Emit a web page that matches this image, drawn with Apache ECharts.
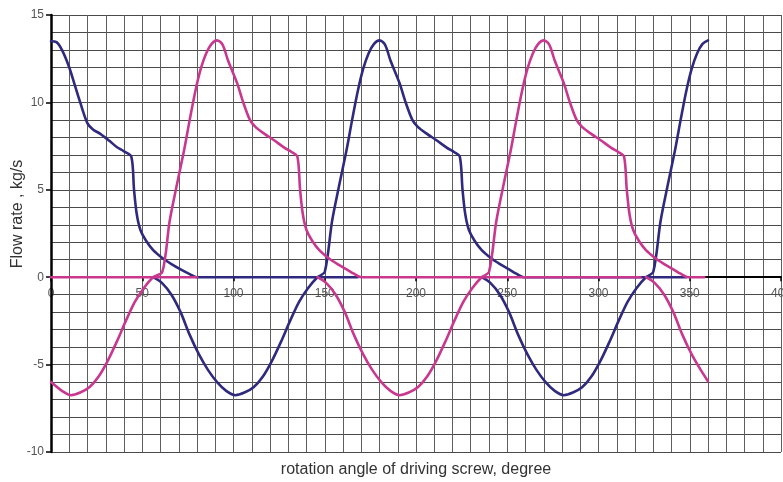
<!DOCTYPE html>
<html>
<head>
<meta charset="utf-8">
<script src="https://cdn.jsdelivr.net/npm/echarts@6/dist/echarts.min.js"></script>
<style>
  html, body { margin: 0; padding: 0; background: #ffffff; }
  #chart { width: 783px; height: 482px; }
</style>
</head>
<body>
<div id="chart"></div>
<script>
// Flow rate of the two working chambers over one turn of the driving screw.
// Each array is one continuous stretch of a curve: [angle in degrees, flow in kg/s].

// chamber 1 (blue)
const blueStart = [
  [0, 13.5], [3, 13.45], [6, 13.0], [10, 12.0], [13, 11.0], [16, 10.0], [20, 8.8], [23, 8.45],
  [27, 8.2], [32, 7.8], [36, 7.45], [40, 7.2], [44, 6.9], [45.5, 5.0], [47, 3.6], [49, 2.7],
  [52, 2.1], [56, 1.55], [61, 1.1], [66, 0.75], [71, 0.45], [76, 0.18], [80, 0], [168, 0]
];
const blueCycle1 = [
  [56, 0], [61, -0.35], [66, -1.0], [71, -2.0], [76, -3.3], [81, -4.4], [86, -5.3], [91, -6.0],
  [96, -6.5], [101, -6.75], [106, -6.6], [111, -6.3], [116, -5.7], [121, -4.8], [126, -3.7],
  [131, -2.5], [136, -1.4], [141, -0.6], [146, 0],
  [150, 0.3], [154, 3.2], [158, 5.3], [162, 7.3], [165, 9.0], [168, 10.6], [171, 11.9],
  [174, 12.8], [177, 13.35], [180, 13.55],
  [183, 13.3], [186, 12.4], [191, 11.1], [194, 10.1], [198, 9.0], [201, 8.6], [206, 8.2],
  [211, 7.85], [217, 7.4], [221, 7.15], [224, 6.9], [225.5, 5.0], [227, 3.6], [229, 2.7],
  [232, 2.1], [236, 1.55], [241, 1.1], [246, 0.75], [251, 0.45], [255, 0.2], [259, 0], [348, 0]
];
const blueCycle2 = [
  [236, 0], [241, -0.35], [246, -1.0], [251, -2.0], [256, -3.3], [261, -4.4], [266, -5.3],
  [271, -6.0], [276, -6.5], [281, -6.75], [286, -6.6], [291, -6.3], [296, -5.7], [301, -4.8],
  [306, -3.7], [311, -2.5], [316, -1.4], [321, -0.6], [326, 0],
  [330, 0.3], [334, 3.2], [338, 5.3], [342, 7.3], [345, 9.0], [348, 10.6], [351, 11.9],
  [354, 12.8], [357, 13.35], [360, 13.55]
];

// chamber 2 (magenta)
const magentaIdle = [[0, 0], [80, 0]];
const magentaCycle1 = [
  [0, -6.0], [6, -6.5], [11, -6.75], [16, -6.6], [21, -6.3], [26, -5.7], [31, -4.8],
  [36, -3.7], [41, -2.5], [46, -1.4], [51, -0.6], [56, 0],
  [61, 0.3], [65, 3.2], [69, 5.3], [73, 7.3], [76, 9.0], [79, 10.6], [82, 11.9], [85, 12.8],
  [88, 13.35], [91, 13.55],
  [94, 13.3], [97, 12.4], [102, 11.1], [105, 10.1], [109, 9.0], [112, 8.6], [117, 8.2],
  [122, 7.85], [128, 7.4], [132, 7.15], [135, 6.9], [136.5, 5.0], [138, 3.6], [140, 2.7],
  [143, 2.1], [147, 1.55], [152, 1.1], [157, 0.75], [162, 0.45], [166, 0.2], [170, 0], [323, 0]
];
const magentaCycle2 = [
  [146, 0], [151, -0.35], [156, -1.0], [161, -2.0], [166, -3.3], [171, -4.4], [176, -5.3],
  [181, -6.0], [186, -6.5], [191, -6.75], [196, -6.6], [201, -6.3], [206, -5.7], [211, -4.8],
  [216, -3.7], [221, -2.5], [226, -1.4], [231, -0.6], [236, 0],
  [240, 0.3], [244, 3.2], [248, 5.3], [252, 7.3], [255, 9.0], [258, 10.6], [261, 11.9],
  [264, 12.8], [267, 13.35], [270, 13.55],
  [273, 13.3], [276, 12.4], [281, 11.1], [284, 10.1], [288, 9.0], [291, 8.6], [296, 8.2],
  [301, 7.85], [307, 7.4], [311, 7.15], [314, 6.9], [315.5, 5.0], [317, 3.6], [319, 2.7],
  [322, 2.1], [326, 1.55], [331, 1.1], [336, 0.75], [341, 0.45], [345, 0.2], [349, 0], [358, 0]
];
const magentaEnd = [
  [326, 0], [331, -0.35], [336, -1.0], [341, -2.0], [346, -3.3], [351, -4.4], [356, -5.3], [360, -5.95]
];

const xRange = [0, 400];
const yRange = [-10, 15];
const xTitle = 'rotation angle of driving screw, degree';
const yTitle = 'Flow rate , kg/s';

const BLUE = '#2f2a7e';
const MAGENTA = '#c9388f';
const FONT = 'Liberation Sans, Arial, sans-serif';

// plot box
const PLOT = { left: 51, right: 2, top: 15, bottom: 30 };
const plotHeight = 482 - PLOT.top - PLOT.bottom;
// height from the top of the plot down to the zero line
const zeroOffset = plotHeight * yRange[1] / (yRange[1] - yRange[0]);

const chart = echarts.init(document.getElementById('chart'), null, { renderer: 'canvas' });

function curve(data, color, z) {
  return {
    type: 'line', data: data, xAxisIndex: 0, yAxisIndex: 0,
    showSymbol: false, symbol: 'none', smooth: 0.3,
    lineStyle: { color: color, width: 2.6, cap: 'round', join: 'round' },
    z: z, silent: true, animation: false
  };
}

const baseX = { type: 'value', min: xRange[0], max: xRange[1] };
const baseY = { type: 'value', min: yRange[0], max: yRange[1] };

chart.setOption({
  animation: false,
  backgroundColor: '#ffffff',
  grid: [
    Object.assign({ containLabel: false, outerBoundsMode: 'none' }, PLOT),
    // upper half of the plot: its bottom edge is the zero line, where the angle labels sit
    { left: PLOT.left, right: PLOT.right, top: PLOT.top, height: zeroOffset, containLabel: false, outerBoundsMode: 'none' }
  ],
  xAxis: [
    // black axis line through zero, with ticks
    Object.assign({}, baseX, {
      gridIndex: 0, interval: 50, position: 'bottom', z: 1.5,
      axisLine: { show: true, onZero: true, onZeroAxisIndex: 0, lineStyle: { color: '#000', width: 2 } },
      axisTick: { show: true, length: 4, lineStyle: { color: '#000', width: 1.5 } },
      axisLabel: { show: false },
      splitLine: { show: false }
    }),
    // 10-degree grid
    Object.assign({}, baseX, {
      gridIndex: 0, interval: 10, position: 'bottom', z: 1,
      axisLine: { show: false, onZero: false }, axisTick: { show: false }, axisLabel: { show: false },
      splitLine: { show: true, lineStyle: { color: '#5e5e5e', width: 1 } }
    }),
    // angle labels under the zero line
    Object.assign({}, baseX, {
      gridIndex: 1, interval: 50, position: 'bottom', z: 0,
      axisLine: { show: false, onZero: false }, axisTick: { show: false },
      axisLabel: { color: '#555', fontSize: 12, fontFamily: FONT, margin: 10, showMinLabel: true, showMaxLabel: true },
      splitLine: { show: false }
    })
  ],
  yAxis: [
    Object.assign({}, baseY, {
      gridIndex: 0, interval: 5, position: 'left', z: 0,
      axisLine: { show: false, onZero: false },
      axisTick: { show: true, length: 5, lineStyle: { color: '#000', width: 1.5 } },
      axisLabel: { color: '#555', fontSize: 12, fontFamily: FONT, margin: 7, showMinLabel: true, showMaxLabel: true },
      splitLine: { show: false }
    }),
    Object.assign({}, baseY, {
      gridIndex: 0, interval: 1, position: 'left', z: 1,
      axisLine: { show: false, onZero: false }, axisTick: { show: false }, axisLabel: { show: false },
      splitLine: { show: true, lineStyle: { color: '#4a4a4a', width: 1 } }
    }),
    Object.assign({}, baseY, {
      gridIndex: 0, interval: 5, position: 'left', z: 1.5,
      axisLine: { show: true, onZero: false, lineStyle: { color: '#000', width: 2.5 } },
      axisTick: { show: false }, axisLabel: { show: false }, splitLine: { show: false }
    }),
    {
      type: 'value', gridIndex: 1, min: 0, max: yRange[1], show: false
    }
  ],
  graphic: [
    {
      type: 'text', x: 416, y: 470, silent: true,
      style: { text: xTitle, fill: '#333', font: '16px ' + FONT, textAlign: 'center', textVerticalAlign: 'middle' }
    },
    {
      type: 'text', x: 18, y: 214, rotation: Math.PI / 2, silent: true,
      style: { text: yTitle, fill: '#333', font: '16px ' + FONT, textAlign: 'center', textVerticalAlign: 'middle' }
    }
  ],
  series: [
    curve(blueStart, BLUE, 2),
    curve(blueCycle1, BLUE, 2),
    curve(blueCycle2, BLUE, 2),
    curve(magentaIdle, MAGENTA, 3),
    curve(magentaCycle1, MAGENTA, 3),
    curve(magentaCycle2, MAGENTA, 3),
    curve(magentaEnd, MAGENTA, 3)
  ]
});
</script>
</body>
</html>
